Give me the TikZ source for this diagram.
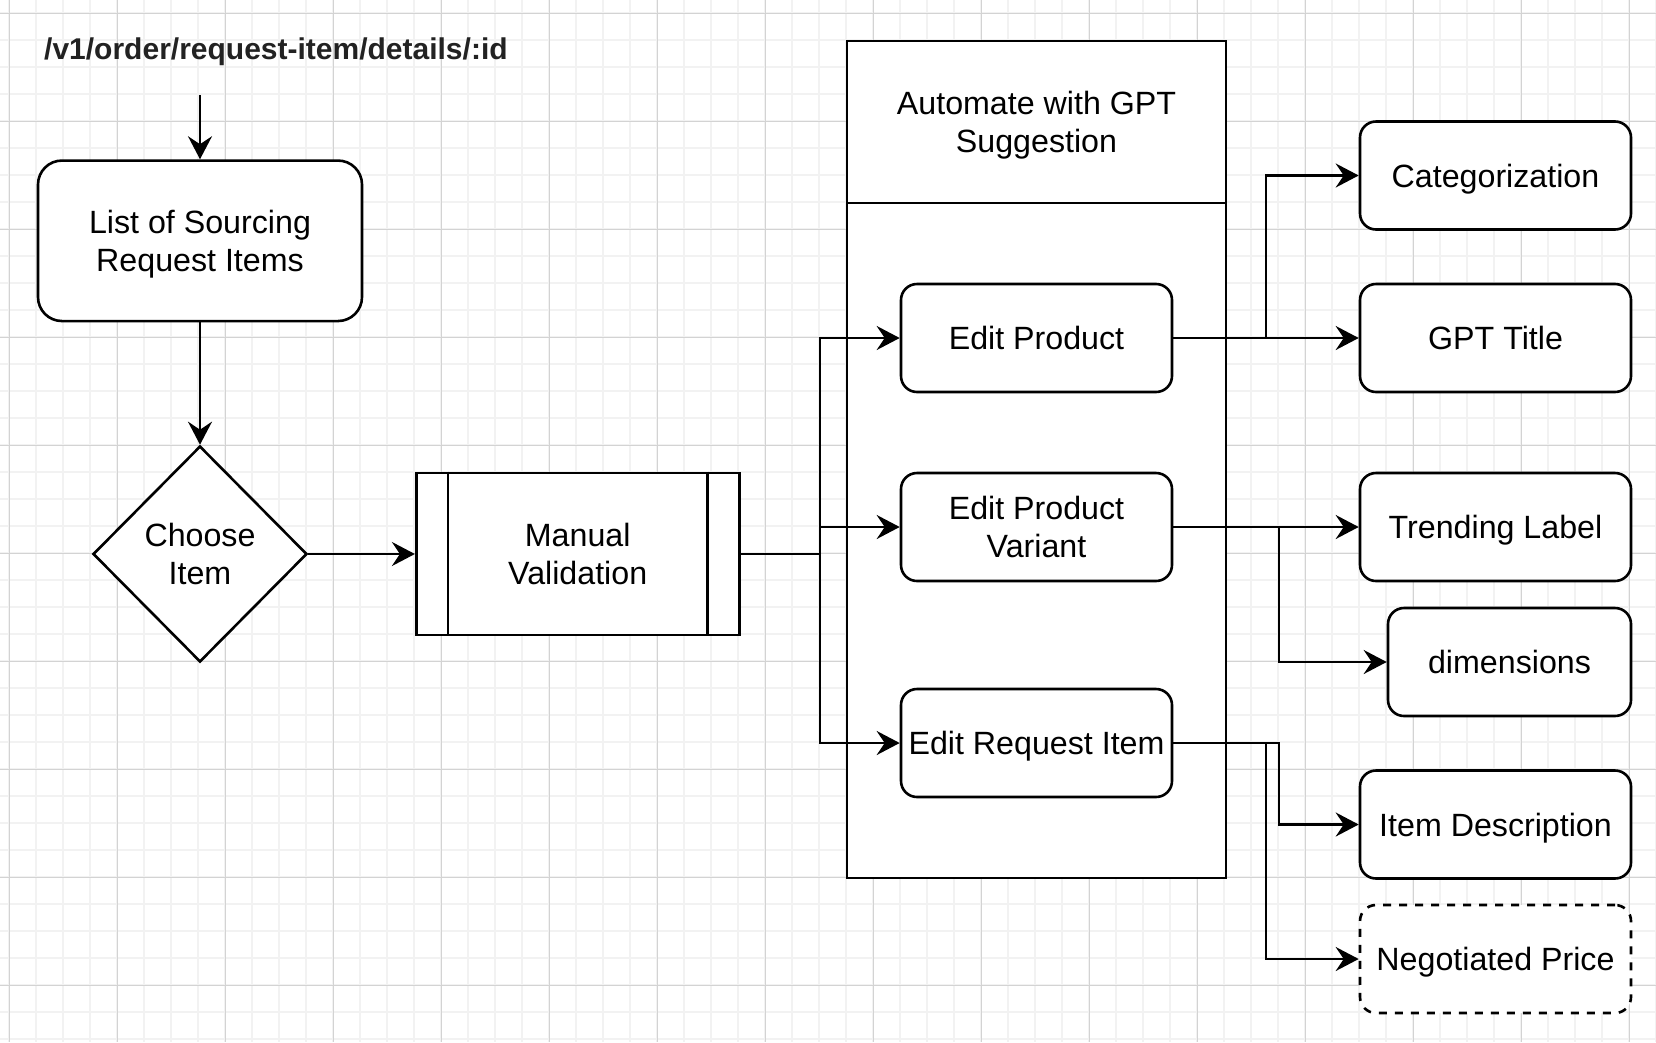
\documentclass[tikz,border=0pt]{standalone}
\usepackage{fontspec}
\setmainfont{Liberation Sans}
\usetikzlibrary{arrows.meta,shapes.geometric}
\definecolor{minorg}{HTML}{F2F2F2}
\definecolor{majorg}{HTML}{D3D3D3}
\definecolor{titlec}{HTML}{222222}
\newcommand{\bodyfont}{\fontsize{32.2}{38.6}\selectfont}
\begin{document}
\begin{tikzpicture}[x=1pt,y=-1pt,
  shp/.style={draw=black, line width=2.6pt, fill=white, inner sep=0pt, align=center, text depth=0pt, font=\bodyfont},
  rbox/.style={shp, rectangle, rounded corners=16pt, minimum width=271pt, minimum height=108pt},
  arr/.style={line width=2.6pt, -{Stealth[length=23pt,width=24pt,inset=8pt]}},
  ln/.style={line width=2.6pt},
  minorline/.style={draw=minorg, line width=1.7pt},
  majorline/.style={draw=majorg, line width=1pt}]
\useasboundingbox (0,0) rectangle (1656,1042);
\fill[white] (0,0) rectangle (1656,1042);
\begin{scope}
\clip (0,0) rectangle (1656,1042);
\foreach \k in {0,...,61} \draw[minorline] ({9.3+27*\k},0) -- ({9.3+27*\k},1042);
\foreach \k in {0,...,38} \draw[minorline] (0,{13.3+27*\k}) -- (1656,{13.3+27*\k});
\foreach \k in {0,...,15} \draw[majorline] ({9.3+108*\k},0) -- ({9.3+108*\k},1042);
\foreach \k in {0,...,9} \draw[majorline] (0,{13.3+108*\k}) -- (1656,{13.3+108*\k});
\end{scope}

% title
\node[anchor=base west, inner sep=0pt, text=titlec, font=\fontsize{30}{36}\selectfont\bfseries] (title) at (44,59.5) {/v1/order/request-item/details/:id};
\coordinate (start) at (200,95);

% container
\node[shp, rectangle, minimum width=379pt, minimum height=162pt] (hdr) at (1036.5,122) {Automate with GPT\\Suggestion};
\node[shp, rectangle, minimum width=379pt, minimum height=675pt] (body) at (1036.5,540.5) {};

% left flow
\node[shp, rectangle, rounded corners=24pt, minimum width=324pt, minimum height=160.5pt] (list) at (200,240.8) {List of Sourcing\\Request Items};
\node[shp, diamond, minimum width=214pt, minimum height=216pt] (choose) at (200,554) {Choose\\Item};
\node[shp, rectangle, minimum width=323pt, minimum height=162pt] (manual) at (577.7,554) {Manual\\Validation};
\draw[ln] ([xshift=33pt]manual.north west) -- ([xshift=33pt]manual.south west);
\draw[ln] ([xshift=-33pt]manual.north east) -- ([xshift=-33pt]manual.south east);

% middle boxes
\node[rbox] (ep) at (1036.5,338) {Edit Product};
\node[rbox] (epv) at (1036.5,527) {Edit Product\\Variant};
\node[rbox] (eri) at (1036.5,743) {Edit Request Item};

% right boxes
\node[rbox] (cat) at (1495.5,175.5) {Categorization};
\node[rbox] (gpt) at (1495.5,338) {GPT Title};
\node[rbox] (trend) at (1495.5,527) {Trending Label};
\node[rbox, minimum width=243pt] (dim) at (1509.5,662) {dimensions};
\node[rbox] (idesc) at (1495.5,824.5) {Item Description};
\node[rbox, dash pattern=on 8pt off 8pt] (neg) at (1495.5,959) {Negotiated Price};

% junctions
\coordinate (j1) at (820,554);
\coordinate (j2) at (1266,338);
\coordinate (j3) at (1279,527);
\coordinate (j4) at (1279,743);
\coordinate (j5) at (1266,743);

% connectors
\draw[arr] (start) -- (list.north);
\draw[arr] (list.south) -- (choose.north);
\draw[arr] (choose.east) -- (manual.west);
\draw[arr] (manual.east) -- (j1) |- (ep.west);
\draw[arr] (j1) |- (epv.west);
\draw[arr] (j1) |- (eri.west);
\draw[arr] (ep.east) -- (gpt.west);
\draw[arr] (ep.east) -- (j2) |- (cat.west);
\draw[arr] (epv.east) -- (trend.west);
\draw[arr] (epv.east) -- (j3) |- (dim.west);
\draw[arr] (eri.east) -- (j4) |- (idesc.west);
\draw[arr] (eri.east) -- (j5) |- (neg.west);
\end{tikzpicture}
\end{document}
